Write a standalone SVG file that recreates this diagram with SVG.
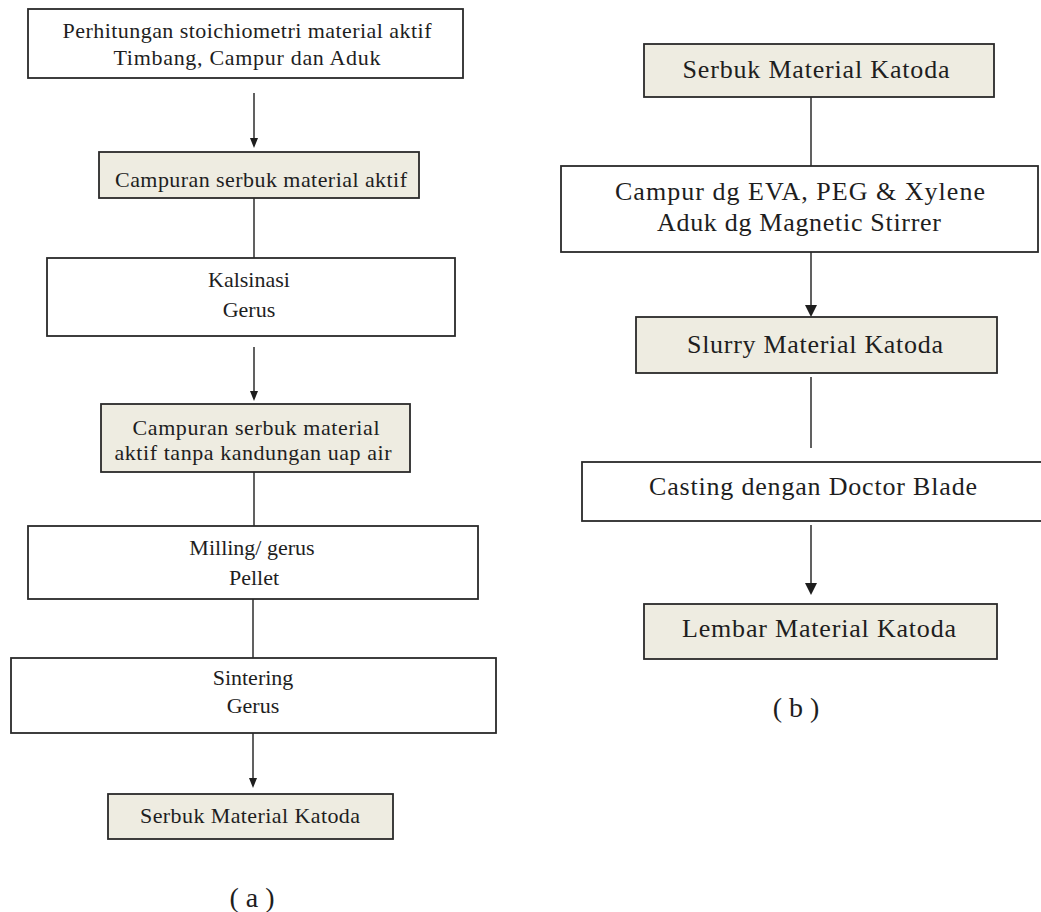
<svg xmlns="http://www.w3.org/2000/svg" width="1041" height="912" viewBox="0 0 1041 912">
<defs>
<style>
.box{fill:#ffffff;stroke:#2a2a2a;stroke-width:1.8}
.hl{fill:#eeece1;stroke:#2a2a2a;stroke-width:1.8}
.t{font-family:"Liberation Serif","Times New Roman","DejaVu Serif",serif;fill:#1e1e1e;text-anchor:middle}
.l{font-size:22px}
.r{font-size:26px}
.cap{font-size:28px}
.c{stroke:#1e1e1e;stroke-width:1.4;fill:none}
.ah{fill:#1e1e1e;stroke:none}
</style>
</defs>
<rect width="1041" height="912" fill="#ffffff"/>

<g id="connectors">
<line class="c" x1="254" y1="93" x2="254" y2="139"/>
<polygon class="ah" points="250,138 258,138 254,148"/>
<line class="c" x1="254" y1="198" x2="254" y2="258"/>
<line class="c" x1="254" y1="347" x2="254" y2="392"/>
<polygon class="ah" points="250,391 258,391 254,401"/>
<line class="c" x1="254" y1="472" x2="254" y2="526"/>
<line class="c" x1="253" y1="599" x2="253" y2="658"/>
<line class="c" x1="253" y1="733" x2="253" y2="779"/>
<polygon class="ah" points="249,778 257,778 253,788"/>

<line class="c" x1="811" y1="97" x2="811" y2="166"/>
<line class="c" x1="811" y1="252" x2="811" y2="306"/>
<polygon class="ah" points="805,305 817,305 811,317"/>
<line class="c" x1="811" y1="377" x2="811" y2="448"/>
<line class="c" x1="811" y1="525" x2="811" y2="584"/>
<polygon class="ah" points="805,583 817,583 811,595"/>
</g>

<g id="a1">
<rect class="box" x="28" y="9" width="435" height="69"/>
<text class="t l" x="247" y="38" textLength="369" lengthAdjust="spacing">Perhitungan stoichiometri material aktif</text>
<text class="t l" x="247" y="65" textLength="267" lengthAdjust="spacing">Timbang, Campur dan Aduk</text>
</g>
<g id="a2">
<rect class="hl" x="99" y="152" width="320" height="46"/>
<text class="t l" x="261" y="187" textLength="292" lengthAdjust="spacing">Campuran serbuk material aktif</text>
</g>
<g id="a3">
<rect class="box" x="47" y="258" width="408" height="78"/>
<text class="t l" x="249" y="287">Kalsinasi</text>
<text class="t l" x="249" y="317">Gerus</text>
</g>
<g id="a4">
<rect class="hl" x="101" y="404" width="309" height="68"/>
<text class="t l" x="256" y="435" textLength="247" lengthAdjust="spacing">Campuran serbuk material</text>
<text class="t l" x="253" y="460" textLength="277" lengthAdjust="spacing">aktif tanpa kandungan uap air</text>
</g>
<g id="a5">
<rect class="box" x="28" y="526" width="450" height="73"/>
<text class="t l" x="252" y="555">Milling/ gerus</text>
<text class="t l" x="254" y="585">Pellet</text>
</g>
<g id="a6">
<rect class="box" x="11" y="658" width="485" height="75"/>
<text class="t l" x="253" y="685">Sintering</text>
<text class="t l" x="253" y="713">Gerus</text>
</g>
<g id="a7">
<rect class="hl" x="108" y="794" width="285" height="45"/>
<text class="t l" x="250" y="823" textLength="220" lengthAdjust="spacing">Serbuk Material Katoda</text>
</g>
<g id="label-a">
<text class="t cap" x="252" y="907">( a )</text>
</g>

<g id="b1">
<rect class="hl" x="644" y="44" width="350" height="53"/>
<text class="t r" x="816" y="78" textLength="267" lengthAdjust="spacing">Serbuk Material Katoda</text>
</g>
<g id="b2">
<rect class="box" x="561" y="166" width="477" height="86"/>
<text class="t r" x="800" y="200" textLength="370" lengthAdjust="spacing">Campur dg EVA, PEG &amp; Xylene</text>
<text class="t r" x="799" y="231" textLength="284" lengthAdjust="spacing">Aduk dg Magnetic Stirrer</text>
</g>
<g id="b3">
<rect class="hl" x="636" y="317" width="361" height="56"/>
<text class="t r" x="815" y="353" textLength="256" lengthAdjust="spacing">Slurry Material Katoda</text>
</g>
<g id="b4">
<rect class="box" x="582" y="462" width="470" height="59"/>
<text class="t r" x="813" y="495" textLength="328" lengthAdjust="spacing">Casting dengan Doctor Blade</text>
</g>
<g id="b5">
<rect class="hl" x="644" y="604" width="353" height="55"/>
<text class="t r" x="819" y="637" textLength="274" lengthAdjust="spacing">Lembar Material Katoda</text>
</g>
<g id="label-b">
<text class="t cap" x="796" y="717">( b )</text>
</g>
</svg>
